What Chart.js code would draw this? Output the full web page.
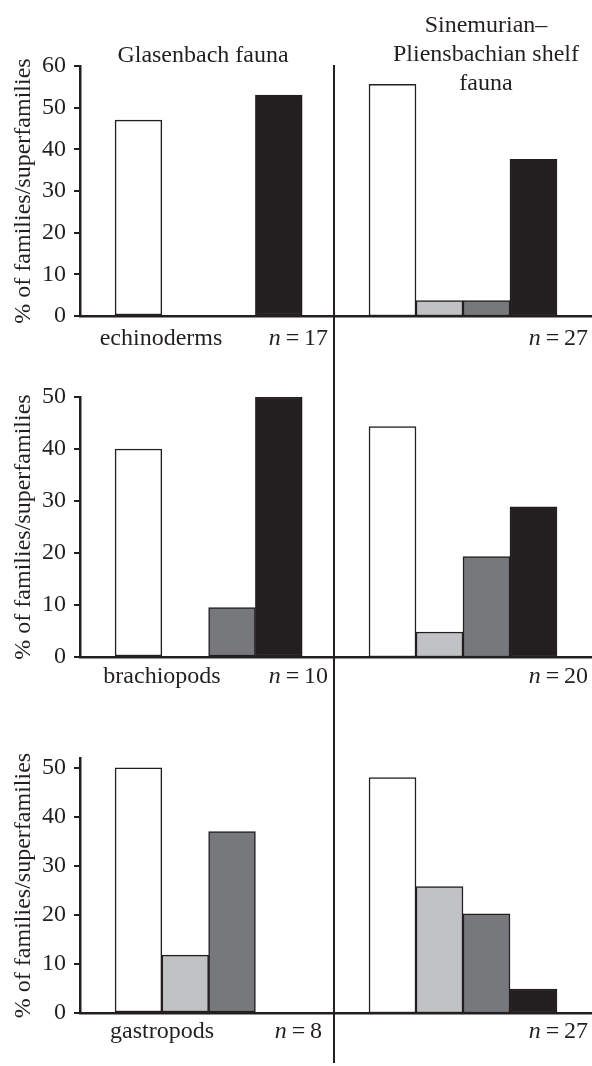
<!DOCTYPE html>
<html>
<head>
<meta charset="utf-8">
<script src="https://cdn.jsdelivr.net/npm/chart.js@4.4.0/dist/chart.umd.min.js"></script>
<style>
  body { margin: 0; background: #fff; }
  #fig { position: relative; width: 592px; height: 1066px; font-family: "Liberation Serif", serif; font-size: 24px; color: #231f20; }
  #fig canvas { position: absolute; }
  .txt { position: absolute; line-height: 28px; white-space: nowrap; }
  .ctr { width: 240px; text-align: center; }
  .n { text-align: right; }
  #divider { position: absolute; left: 333px; top: 65px; width: 1.5px; height: 998px; background: #231f20; }
</style>
</head>
<body>
<div id="fig">
  <canvas id="c0l" width="334" height="296" style="left:0;top:43px"></canvas>
  <canvas id="c0r" width="258" height="296" style="left:334px;top:43px"></canvas>
  <canvas id="c1l" width="334" height="306" style="left:0;top:374px"></canvas>
  <canvas id="c1r" width="258" height="306" style="left:334px;top:374px"></canvas>
  <canvas id="c2l" width="334" height="301" style="left:0;top:735px"></canvas>
  <canvas id="c2r" width="258" height="301" style="left:334px;top:735px"></canvas>

  <div class="txt ctr" style="left:83px;top:40px">Glasenbach fauna</div>
  <div class="txt ctr" style="left:366px;top:10px;line-height:29px">Sinemurian–<br>Pliensbachian shelf<br>fauna</div>

  <div id="lbl0" class="txt ctr" style="left:41px;top:323px"></div>
  <div id="nl0" class="txt n" style="right:264px;top:323px"></div>
  <div id="nr0" class="txt n" style="right:4px;top:323px"></div>
  <div id="lbl1" class="txt ctr" style="left:42px;top:661px"></div>
  <div id="nl1" class="txt n" style="right:264px;top:661px"></div>
  <div id="nr1" class="txt n" style="right:4px;top:661px"></div>
  <div id="lbl2" class="txt ctr" style="left:42px;top:1016px"></div>
  <div id="nl2" class="txt n" style="right:270px;top:1016px"></div>
  <div id="nr2" class="txt n" style="right:4px;top:1016px"></div>

  <div id="divider"></div>
</div>
<script>
const groups = ["echinoderms", "brachiopods", "gastropods"];
const glasenbachN = [17, 10, 8];
const shelfN = [27, 20, 27];

// % of families/superfamilies, four bar classes per panel
const echinodermsGlasenbach = [47, 0, 0, 53];
const echinodermsShelf = [55.6, 3.7, 3.7, 37.6];
const brachiopodsGlasenbach = [40, 0, 9.5, 50];
const brachiopodsShelf = [44.3, 4.8, 19.3, 28.9];
const gastropodsGlasenbach = [50, 11.8, 37, 0];
const gastropodsShelf = [48, 25.8, 20.2, 4.9];

const yMax = [60, 50, 52];
const yTitle = "% of families/superfamilies";

const fills = ["#ffffff", "#c1c2c4", "#77787b", "#231f20"];
const ink = "#231f20";
const serif = { family: "Liberation Serif", size: 24 };

function barData(values) {
  return values.map((v, i) => ({ x: i, y: v }));
}

function makeChart(id, values, max, isLeft) {
  return new Chart(document.getElementById(id), {
    type: "bar",
    data: {
      datasets: [{
        data: barData(values),
        backgroundColor: fills,
        borderColor: ink,
        borderWidth: 1.5,
        borderSkipped: false,
        barPercentage: 1,
        categoryPercentage: 1,
      }],
    },
    options: {
      responsive: false,
      animation: false,
      events: [],
      layout: { padding: { top: 23, bottom: 23, left: 0, right: 0 } },
      plugins: { legend: { display: false }, tooltip: { enabled: false } },
      scales: {
        x: {
          type: "linear",
          offset: false,
          min: isLeft ? -1.25 : -1.245,
          max: isLeft ? 4.18 : 4.245,
          ticks: { display: false, stepSize: 1, includeBounds: false },
          grid: { display: false, drawTicks: false },
          border: { display: true, color: ink, width: 2.5 },
        },
        y: {
          display: isLeft,
          min: 0,
          max: max,
          afterFit: (s) => { if (isLeft) s.width = 80; },
          ticks: { stepSize: 10, includeBounds: false, color: ink, padding: 8, font: serif },
          grid: { drawOnChartArea: false, drawTicks: true, tickLength: 6, color: ink, lineWidth: 2 },
          border: { color: ink, width: 2.5 },
          title: { display: true, text: yTitle, color: ink, font: serif, padding: { top: 9, bottom: 0 } },
        },
      },
    },
  });
}

makeChart("c0l", echinodermsGlasenbach, yMax[0], true);
makeChart("c0r", echinodermsShelf, yMax[0], false);
makeChart("c1l", brachiopodsGlasenbach, yMax[1], true);
makeChart("c1r", brachiopodsShelf, yMax[1], false);
makeChart("c2l", gastropodsGlasenbach, yMax[2], true);
makeChart("c2r", gastropodsShelf, yMax[2], false);

groups.forEach((g, i) => {
  document.getElementById("lbl" + i).textContent = g;
  document.getElementById("nl" + i).innerHTML = "<i>n</i>\u2009=\u2009" + glasenbachN[i];
  document.getElementById("nr" + i).innerHTML = "<i>n</i>\u2009=\u2009" + shelfN[i];
});
</script>
</body>
</html>
